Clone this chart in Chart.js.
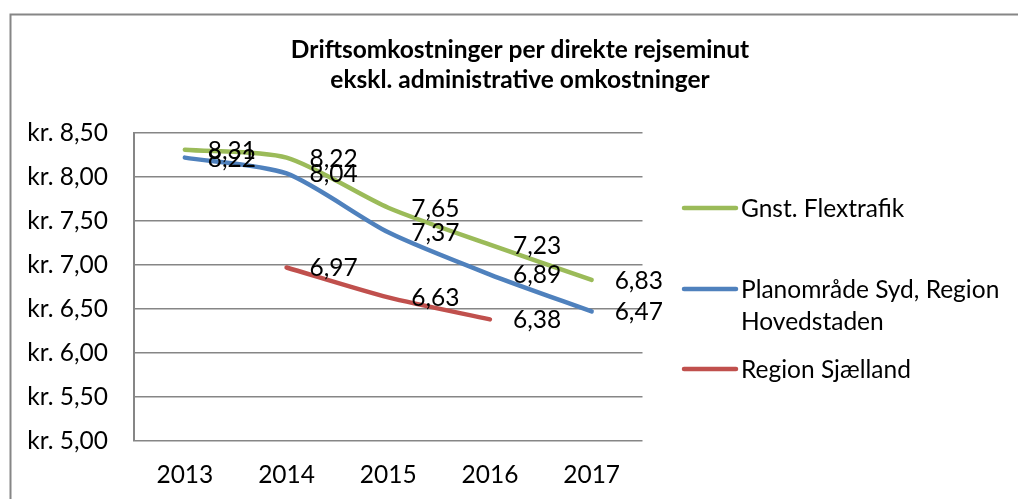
<!DOCTYPE html>
<html>
<head>
<meta charset="utf-8">
<script src="https://cdn.jsdelivr.net/npm/chart.js@4.4.1/dist/chart.umd.min.js"></script>
<style>
html,body{margin:0;padding:0;background:#fff;}
#wrap{width:1018px;height:499px;}
</style>
</head>
<body>
<div id="wrap"><canvas id="c" width="1018" height="499"></canvas></div>
<script>
const categories = ['2013', '2014', '2015', '2016', '2017'];
const gnstFlextrafik = [8.31, 8.22, 7.65, 7.23, 6.83];
const planomraadeSyd = [8.22, 8.04, 7.37, 6.89, 6.47];
const regionSjaelland = [null, 6.97, 6.63, 6.38, null];
const seriesNames = ['Gnst. Flextrafik', ['Planområde Syd, Region', 'Hovedstaden'], 'Region Sjælland'];
const titleLines = ['Driftsomkostninger per direkte rejseminut', 'ekskl. administrative omkostninger'];
const yMin = 5.0, yMax = 8.5, yStep = 0.5;

const FONT = 'Lato, "Open Sans", sans-serif';
const TXT = 24.5;
const fmt = v => v.toFixed(2).replace('.', ',');

const colors = ['#9BBB59', '#4F81BD', '#C0504D'];

const frame = {
  id: 'frame',
  beforeDraw(chart) {
    const ctx = chart.ctx;
    ctx.save();
    ctx.fillStyle = '#fff';
    ctx.fillRect(0, 0, chart.width, chart.height);
    ctx.strokeStyle = '#868686';
    ctx.lineWidth = 2;
    ctx.strokeRect(10.5, 14.5, 1030, 520);
    ctx.restore();
  }
};

const titlePlugin = {
  id: 'titlePlugin',
  afterDraw(chart) {
    const ctx = chart.ctx;
    ctx.save();
    ctx.fillStyle = '#000';
    ctx.font = 'bold 24.5px ' + FONT;
    ctx.textAlign = 'center';
    ctx.textBaseline = 'alphabetic';
    ctx.fillText(titleLines[0], 520, 58);
    ctx.fillText(titleLines[1], 520, 88);
    ctx.restore();
  }
};

const dataLabels = {
  id: 'dataLabels',
  afterDatasetsDraw(chart) {
    const ctx = chart.ctx;
    ctx.save();
    ctx.fillStyle = '#000';
    ctx.font = TXT + 'px ' + FONT;
    ctx.textAlign = 'left';
    ctx.textBaseline = 'middle';
    chart.data.datasets.forEach((ds, i) => {
      const meta = chart.getDatasetMeta(i);
      meta.data.forEach((pt, j) => {
        const v = ds.data[j];
        if (v === null || v === undefined) return;
        ctx.fillText(fmt(v), pt.x + 23, pt.y + 1);
      });
    });
    ctx.restore();
  }
};

const legendPlugin = {
  id: 'legendPlugin',
  afterDraw(chart) {
    const ctx = chart.ctx;
    const ys = [208, 289, 369];
    ctx.save();
    ctx.font = TXT + 'px ' + FONT;
    ctx.textAlign = 'left';
    ctx.textBaseline = 'middle';
    chart.data.datasets.forEach((ds, i) => {
      const y = ys[i];
      ctx.strokeStyle = ds.borderColor;
      ctx.lineWidth = 4.5;
      ctx.lineCap = 'round';
      ctx.beginPath();
      ctx.moveTo(684, y);
      ctx.lineTo(736, y);
      ctx.stroke();
      ctx.fillStyle = '#000';
      const lines = Array.isArray(ds.label) ? ds.label : [ds.label];
      lines.forEach((t, k) => ctx.fillText(t, 741, y + 1 + k * 32.5));
    });
    ctx.restore();
  }
};

const mkDs = (label, data, color) => ({
  label: label,
  data: data,
  borderColor: color,
  backgroundColor: color,
  borderWidth: 4.5,
  borderCapStyle: 'round',
  borderJoinStyle: 'round',
  pointRadius: 0,
  pointHoverRadius: 0,
  tension: 0.25,
  spanGaps: false,
  fill: false
});

new Chart(document.getElementById('c'), {
  type: 'line',
  data: {
    labels: categories,
    datasets: [
      mkDs(seriesNames[0], gnstFlextrafik, colors[0]),
      mkDs(seriesNames[1], planomraadeSyd, colors[1]),
      mkDs(seriesNames[2], regionSjaelland, colors[2])
    ]
  },
  options: {
    responsive: false,
    animation: false,
    events: [],
    layout: { padding: { left: 0, top: 133, right: 375.5, bottom: 0 } },
    plugins: { legend: { display: false }, title: { display: false }, tooltip: { enabled: false } },
    scales: {
      x: {
        offset: true,
        grid: { display: false, drawTicks: false },
        border: { display: false },
        ticks: { color: '#000', font: { family: FONT, size: TXT }, padding: 20, maxRotation: 0 },
        afterFit(scale) { scale.height = 58.3; }
      },
      y: {
        min: yMin, max: yMax,
        grid: { color: '#868686', lineWidth: 1.5, drawTicks: false },
        border: { display: true, color: '#868686', width: 2 },
        ticks: {
          stepSize: yStep,
          color: '#000',
          font: { family: FONT, size: TXT },
          padding: 26,
          callback: v => 'kr. ' + fmt(v)
        },
        afterFit(scale) { scale.width = 134; }
      }
    }
  },
  plugins: [frame, dataLabels, titlePlugin, legendPlugin]
});
</script>
</body>
</html>
